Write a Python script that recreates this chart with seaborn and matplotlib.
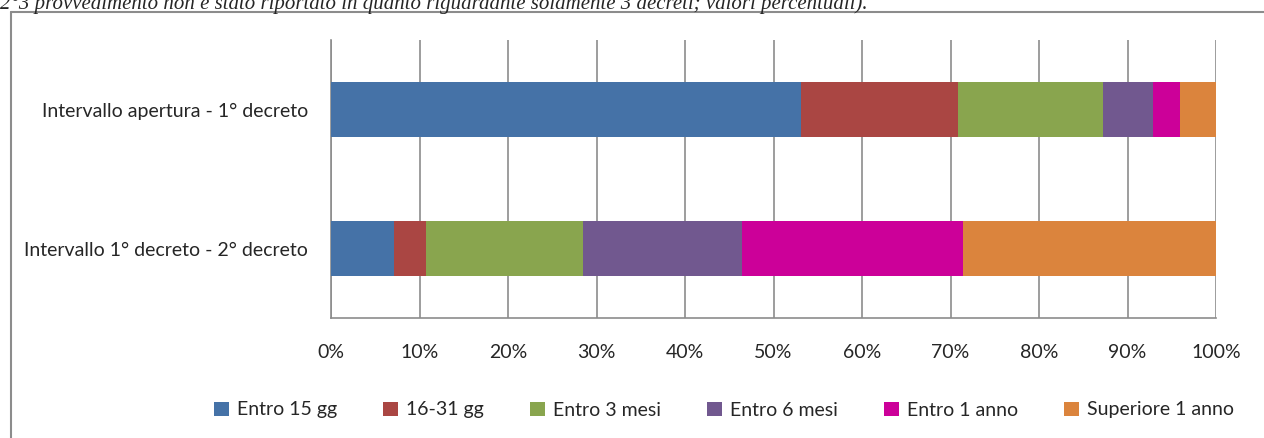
import matplotlib
matplotlib.use('Agg')
import matplotlib.pyplot as plt
import seaborn as sns
import numpy as np
import pandas as pd
from matplotlib.lines import Line2D
from matplotlib.ticker import FuncFormatter, FixedLocator

categories = ['Intervallo apertura - 1° decreto', 'Intervallo 1° decreto - 2° decreto']
series = ['Entro 15 gg', '16-31 gg', 'Entro 3 mesi', 'Entro 6 mesi', 'Entro 1 anno', 'Superiore 1 anno']
entro_15gg = [53.1, 7.1]
gg_16_31 = [17.7, 3.6]
entro_3mesi = [16.4, 17.8]
entro_6mesi = [5.7, 17.9]
entro_1anno = [3.0, 25.0]
superiore_1anno = [4.1, 28.6]
colors = ['#4572A7', '#AA4643', '#89A54E', '#71588F', '#CC0099', '#DB843D']
caption = ('2°3 provvedimento non è stato riportato in quanto riguardante solamente '
           '3 decreti; valori percentuali).')

values = [entro_15gg, gg_16_31, entro_3mesi, entro_6mesi, entro_1anno, superiore_1anno]
df = pd.DataFrame(np.array(values).T, columns=series)
df['categoria'] = categories
cum = df[series].cumsum(axis=1)

sns.set_style('white')
plt.rcParams['font.family'] = ['Lato', 'DejaVu Sans']

fig = plt.figure(figsize=(12.64, 4.38), dpi=100)
ax = fig.add_axes([331/1264, 1 - 318/438, 885/1264, 278/438])

# draw cumulative totals from the last series to the first so they stack
for name, col in zip(series[::-1], colors[::-1]):
    sns.barplot(x=cum[name], y=df['categoria'], orient='h', color=col, width=0.4,
                saturation=1, label=name, ax=ax, edgecolor='none', zorder=3)

ax.set_xlim(0, 100)
ax.set_ylim(1.5, -0.5)
ax.set_xlabel('')
ax.set_ylabel('')
ax.xaxis.set_major_locator(FixedLocator(np.arange(0, 101, 10)))
ax.xaxis.set_major_formatter(FuncFormatter(lambda v, p: f'{v:.0f}%'))
ax.grid(axis='x', color='#8c8c8c', lw=1.2, zorder=0)
ax.grid(axis='y', visible=False)
for s in ['top', 'right']:
    ax.spines[s].set_visible(False)
for s in ['left', 'bottom']:
    ax.spines[s].set_color('#8c8c8c')
    ax.spines[s].set_linewidth(1.2)
ax.tick_params(axis='x', length=5, color='#8c8c8c', width=1.2, pad=14, labelsize=14)
ax.tick_params(axis='y', length=0, pad=16.5, labelsize=14)
ax.yaxis.set_minor_locator(FixedLocator([-0.5, 0.5, 1.5]))
ax.tick_params(axis='y', which='minor', length=8, color='#8c8c8c', width=1.2)

handles, labels = ax.get_legend_handles_labels()
if ax.get_legend() is not None:
    ax.get_legend().remove()
handles, labels = handles[::-1], labels[::-1]
fig.legend(handles, labels, loc='center', bbox_to_anchor=(724/1264, 1 - 410/438),
           ncol=6, frameon=False, fontsize=14, handlelength=0.75, handleheight=0.75,
           handletextpad=0.4, columnspacing=2.4)

# outer frame of the chart (cut off right and bottom)
fig.add_artist(Line2D([11/1264, 11/1264], [0, 1 - 12/438], color='#8c8c8c', lw=1.5,
                      transform=fig.transFigure))
fig.add_artist(Line2D([11/1264, 1], [1 - 12/438, 1 - 12/438], color='#8c8c8c', lw=1.5,
                      transform=fig.transFigure))

fig.text(0, 1 - 9/438, caption, ha='left', va='baseline', fontsize=15,
         style='italic', family='Liberation Serif')

fig.savefig('out.png', dpi=100)
